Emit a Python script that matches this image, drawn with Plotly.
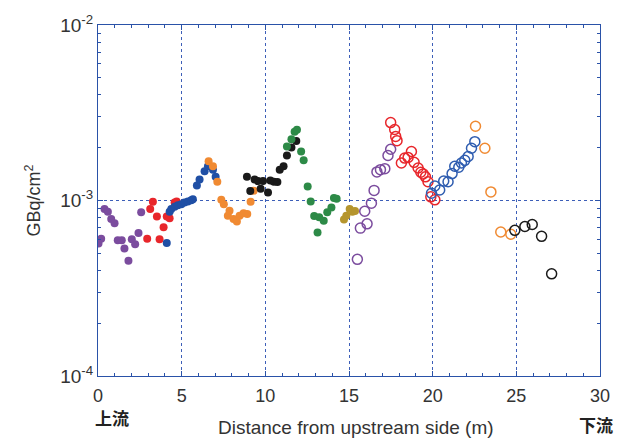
import plotly.graph_objects as go

# ---- data (distance in m, concentration in GBq/cm2) ----
purple_x = [0.03, 0.19, 0.39, 0.59, 0.79, 0.99, 1.18, 1.42, 1.58, 1.82, 2.02, 2.22, 2.42, 2.58]
purple_y = [5.68e-4, 6.06e-4, 8.94e-4, 8.64e-4, 7.85e-4, 7.43e-4, 5.94e-4, 5.94e-4, 5.33e-4,
            4.54e-4, 6.01e-4, 5.64e-4, 6.53e-4, 8.56e-4]

red_x = [2.94, 3.12, 3.28, 3.52, 3.68, 3.92, 4.11, 4.28, 4.58, 4.70]
red_y = [6.06e-4, 8.94e-4, 9.83e-4, 8.10e-4, 6.01e-4, 7.05e-4, 8.10e-4, 7.92e-4, 9.74e-4, 9.87e-4]

blue_x = [4.11, 4.28, 4.38, 4.58, 4.77, 4.98, 5.17, 5.37, 5.57, 5.67, 5.91, 6.07, 6.37, 6.57, 6.87, 7.03]
blue_y = [5.73e-4, 8.64e-4, 8.94e-4, 9.22e-4, 9.41e-4, 9.53e-4, 9.74e-4, 9.87e-4, 1.004e-3, 1.017e-3,
          1.219e-3, 1.317e-3, 1.469e-3, 1.567e-3, 1.499e-3, 1.364e-3]

orange_x = [6.61, 6.87, 7.13, 7.37, 7.52, 7.76, 7.86, 8.10, 8.30, 8.46, 8.70, 8.92, 9.12, 9.30]
orange_y = [1.671e-3, 1.567e-3, 1.279e-3, 1.009e-3, 9.53e-4, 8.20e-4, 8.75e-4, 7.85e-4, 7.59e-4,
            8.20e-4, 8.45e-4, 8.38e-4, 9.83e-4, 1.138e-3]

black_x = [8.90, 9.10, 9.36, 9.56, 9.72, 9.86, 10.16, 10.30, 10.51, 10.72, 10.86, 11.09, 11.29, 11.56, 11.85]
black_y = [1.364e-3, 1.134e-3, 1.317e-3, 1.290e-3, 1.168e-3, 1.290e-3, 1.109e-3, 1.300e-3, 1.279e-3,
           1.274e-3, 1.499e-3, 1.567e-3, 1.806e-3, 2.004e-3, 2.182e-3]

green_x = [11.29, 11.56, 11.75, 11.89, 12.14, 12.29, 12.53, 12.71, 12.92, 13.12, 13.22, 13.49, 13.70,
           13.95, 14.10, 14.26]
green_y = [2.029e-3, 2.230e-3, 2.464e-3, 2.528e-3, 1.902e-3, 1.693e-3, 1.203e-3, 9.87e-4, 8.16e-4,
           6.57e-4, 8.02e-4, 7.67e-4, 8.56e-4, 9.13e-4, 1.033e-3, 1.024e-3]

gold_x = [14.70, 14.84, 15.04, 15.20, 15.36]
gold_y = [7.79e-4, 8.20e-4, 8.94e-4, 8.64e-4, 8.71e-4]

purple_open_x = [15.50, 15.68, 15.94, 16.08, 16.34, 16.50, 16.67, 16.88, 17.14, 17.33, 17.49]
purple_open_y = [4.62e-4, 6.96e-4, 8.68e-4, 7.36e-4, 9.66e-4, 1.142e-3, 1.455e-3, 1.499e-3, 1.519e-3,
                 1.806e-3, 1.959e-3]

red_open_x = [17.49, 17.73, 17.79, 17.87, 18.13, 18.33, 18.53, 18.73, 18.89, 19.13, 19.29, 19.43,
              19.57, 19.72, 19.89, 20.13]
red_open_y = [2.779e-3, 2.539e-3, 2.318e-3, 2.193e-3, 1.635e-3, 1.744e-3, 1.760e-3, 1.902e-3, 1.650e-3,
              1.532e-3, 1.449e-3, 1.418e-3, 1.364e-3, 1.279e-3, 1.049e-3, 1.009e-3]

blue_open_x = [19.93, 20.13, 20.42, 20.66, 20.92, 21.16, 21.32, 21.56, 21.72, 21.92, 22.12, 22.32, 22.52]
blue_open_y = [1.099e-3, 1.209e-3, 1.148e-3, 1.290e-3, 1.279e-3, 1.423e-3, 1.567e-3, 1.546e-3, 1.635e-3,
               1.693e-3, 1.782e-3, 1.985e-3, 2.164e-3]

orange_open_x = [22.56, 23.12, 23.48, 24.07, 24.67]
orange_open_y = [2.648e-3, 1.985e-3, 1.119e-3, 6.61e-4, 6.42e-4]

black_open_x = [24.91, 25.51, 25.95, 26.51, 27.11]
black_open_y = [6.76e-4, 7.11e-4, 7.30e-4, 6.25e-4, 3.82e-4]

x_ticks = [0, 5, 10, 15, 20, 25, 30]
y_tickvals = [1e-4, 1e-3, 1e-2]
y_ticktext = ["10<sup>-4</sup>", "10<sup>-3</sup>", "10<sup>-2</sup>"]

FRAME = "#2A52A8"
GRID = "#3D5FB8"

fig = go.Figure()

filled = [
    (purple_x, purple_y, "#7B4C9E"),
    (red_x, red_y, "#E8262B"),
    (blue_x, blue_y, "#1F4FA5"),
    (orange_x, orange_y, "#F08A32"),
    (black_x, black_y, "#1A1A1A"),
    (green_x, green_y, "#2D8A47"),
    (gold_x, gold_y, "#B5952E"),
]
for xs, ys, c in filled:
    fig.add_trace(go.Scatter(x=xs, y=ys, mode="markers",
                             marker=dict(symbol="circle", size=8, color=c, line=dict(width=0)),
                             showlegend=False))

opened = [
    (purple_open_x, purple_open_y, "#7B4C9E"),
    (red_open_x, red_open_y, "#E8262B"),
    (blue_open_x, blue_open_y, "#2F5DB0"),
    (orange_open_x, orange_open_y, "#F08A32"),
    (black_open_x, black_open_y, "#1A1A1A"),
]
for xs, ys, c in opened:
    fig.add_trace(go.Scatter(x=xs, y=ys, mode="markers",
                             marker=dict(symbol="circle-open", size=10, color=c, line=dict(width=1.5, color=c)),
                             showlegend=False))

minor_y = [k * 10 ** e for e in (-4, -3) for k in range(2, 10)]

fig.update_layout(
    width=626, height=438,
    margin=dict(l=98, r=26, t=20, b=62),
    paper_bgcolor="white", plot_bgcolor="white",
    font=dict(family="Liberation Sans, Arial, sans-serif", size=16, color="#333333"),
    xaxis=dict(range=[0, 30], tickvals=x_ticks, ticks="inside", ticklen=5, tickcolor=FRAME,
               showline=True, linecolor=FRAME, linewidth=1.2, mirror="ticks",
               showgrid=True, gridcolor=GRID, griddash="dot", gridwidth=1,
               minor=dict(dtick=1, ticks="inside", ticklen=3, tickcolor=FRAME, showgrid=False),
               zeroline=False, tickfont=dict(size=18), ticklabelstandoff=3),
    yaxis=dict(type="log", range=[-4, -2], tickvals=y_tickvals, ticktext=y_ticktext,
               ticks="inside", ticklen=5, tickcolor=FRAME,
               showline=True, linecolor=FRAME, linewidth=1.2, mirror="ticks",
               showgrid=True, gridcolor=GRID, griddash="dot", gridwidth=1,
               minor=dict(tickvals=minor_y, ticks="inside", ticklen=3, tickcolor=FRAME, showgrid=False),
               zeroline=False, tickfont=dict(size=19),
               title=dict(text="GBq/cm<sup>2</sup>", font=dict(size=18), standoff=14)),
)

fig.add_annotation(text="Distance from upstream side (m)", xref="paper", yref="paper",
                   x=0.514, y=-0.146, xanchor="center", yanchor="middle", showarrow=False,
                   font=dict(size=19))
fig.add_annotation(text="<b>上流</b>", xref="paper", yref="paper", x=0.028, y=-0.118,
                   xanchor="center", yanchor="middle", showarrow=False,
                   font=dict(size=17, family="Noto Sans CJK JP", color="#222222"))
fig.add_annotation(text="<b>下流</b>", xref="paper", yref="paper", x=0.992, y=-0.138,
                   xanchor="center", yanchor="middle", showarrow=False,
                   font=dict(size=17, family="Noto Sans CJK JP", color="#222222"))

fig.write_html("out.html", config={"displayModeBar": False},
               post_script="document.body.style.margin='0';document.body.style.overflow='hidden';")
